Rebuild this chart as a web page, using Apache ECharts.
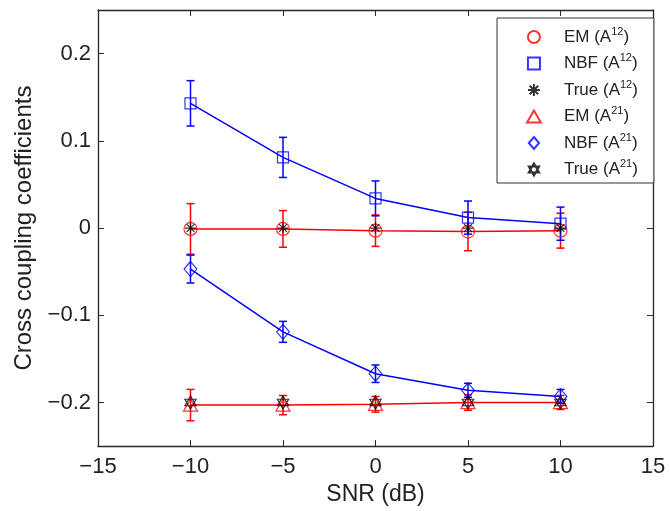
<!DOCTYPE html>
<html>
<head>
<meta charset="utf-8">
<script src="https://cdn.jsdelivr.net/npm/echarts@6/dist/echarts.min.js"></script>
<style>
html,body{margin:0;padding:0;background:#fff;}
#chart{width:670px;height:511px;}
</style>
</head>
<body>
<div id="chart"></div>
<script>
// ---- data ----
var snr = [-10, -5, 0, 5, 10];
var emA12 = [-0.001, -0.001, -0.003, -0.004, -0.003];
var emA12Err = [0.029, 0.021, 0.018, 0.022, 0.020];
var nbfA12 = [0.143, 0.081, 0.034, 0.012, 0.005];
var nbfA12Err = [0.026, 0.023, 0.020, 0.019, 0.019];
var trueA12 = [0, 0, 0, 0, 0];
var emA21 = [-0.203, -0.203, -0.202, -0.200, -0.200];
var emA21Err = [0.018, 0.011, 0.009, 0.009, 0.008];
var nbfA21 = [-0.047, -0.119, -0.167, -0.186, -0.193];
var nbfA21Err = [0.016, 0.012, 0.010, 0.008, 0.008];
var trueA21 = [-0.2, -0.2, -0.2, -0.2, -0.2];
var xTicks = [-15, -10, -5, 0, 5, 10, 15];
var yTicks = [-0.2, -0.1, 0, 0.1, 0.2];
var legendNames = ['EM (A12)', 'NBF (A12)', 'True (A12)', 'EM (A21)', 'NBF (A21)', 'True (A21)'];
var legendRich = {
  'EM (A12)': '{b|EM (A}{s|12}{b|)}',
  'NBF (A12)': '{b|NBF (A}{s|12}{b|)}',
  'True (A12)': '{b|True (A}{s|12}{b|)}',
  'EM (A21)': '{b|EM (A}{s|21}{b|)}',
  'NBF (A21)': '{b|NBF (A}{s|21}{b|)}',
  'True (A21)': '{b|True (A}{s|21}{b|)}'
};

var RED = '#ff0000', BLUE = '#0000ff', BLACK = '#000000', AXIS = '#262626';
var FONT = '"Liberation Sans", Arial, Helvetica, sans-serif';

function pairs(ys) { return snr.map(function (x, i) { return [x, ys[i]]; }); }
function bars(ys, es) { return snr.map(function (x, i) { return [x, ys[i] - es[i], ys[i] + es[i]]; }); }
function fmtMinus(v) { var s = String(Math.round(v * 1000) / 1000); return s.replace('-', '\u2212'); }

var ASTERISK = 'path://M0,-10L0,10M-10,0L10,0M-7.07,-7.07L7.07,7.07M-7.07,7.07L7.07,-7.07';
var HEXAGRAM = 'path://M0,-10L8.66,5L-8.66,5ZM0,10L8.66,-5L-8.66,-5Z';
var SQUARE = 'path://M-10,-10L10,-10L10,10L-10,10Z';
var TRIANGLE = 'path://M0,-10L10,7.3L-10,7.3Z';
var DIAMOND = 'path://M0,-10L8.5,0L0,10L-8.5,0Z';

function errSeries(ys, es, color) {
  return {
    type: 'custom',
    silent: true,
    z: 3,
    data: bars(ys, es),
    renderItem: function (params, api) {
      var x = api.value(0);
      var lo = api.coord([x, api.value(1)]);
      var hi = api.coord([x, api.value(2)]);
      var w = 4;
      var st = { stroke: color, lineWidth: 1.5 };
      return {
        type: 'group',
        children: [
          { type: 'line', shape: { x1: lo[0], y1: lo[1], x2: hi[0], y2: hi[1] }, style: st },
          { type: 'line', shape: { x1: lo[0] - w, y1: lo[1], x2: lo[0] + w, y2: lo[1] }, style: st },
          { type: 'line', shape: { x1: hi[0] - w, y1: hi[1], x2: hi[0] + w, y2: hi[1] }, style: st }
        ]
      };
    }
  };
}
function lineSeries(ys, color) {
  return { type: 'line', data: pairs(ys), symbol: 'none', silent: true, z: 2,
    lineStyle: { color: color, width: 1.5 } };
}
function markSeries(name, ys, symbol, size, color, z) {
  return { type: 'scatter', name: name, data: pairs(ys), symbol: symbol, symbolSize: size, z: z,
    symbolKeepAspect: true,
    itemStyle: { color: 'rgba(0,0,0,0)', borderColor: color, borderWidth: 1.2 } };
}

var axisCommon = {
  type: 'value', min: -15, max: 15, interval: 5,
  axisLine: { onZero: false, lineStyle: { color: AXIS, width: 1.3 } },
  splitLine: { show: false }
};

var option = {
  animation: false,
  backgroundColor: '#ffffff',
  grid: { left: 98, right: 17, top: 10, bottom: 62, containLabel: false },
  xAxis: [
    Object.assign({}, axisCommon, {
      position: 'bottom',
      name: 'SNR (dB)', nameLocation: 'middle', nameGap: 28,
      nameTextStyle: { fontFamily: FONT, fontSize: 23, color: '#222' },
      axisLabel: { margin: 10, fontFamily: FONT, fontSize: 22, color: '#222', formatter: fmtMinus,
        customValues: xTicks },
      axisTick: { inside: true, length: 6, lineStyle: { color: AXIS }, customValues: xTicks }
    }),
    Object.assign({}, axisCommon, {
      position: 'top',
      axisLabel: { show: false },
      axisTick: { inside: true, length: 6, lineStyle: { color: AXIS }, customValues: xTicks }
    })
  ],
  yAxis: [
    {
      type: 'value', min: -0.25, max: 0.25, interval: 0.05, position: 'left',
      name: 'Cross coupling coefficients', nameLocation: 'middle', nameGap: 60, nameRotate: 90,
      nameTextStyle: { fontFamily: FONT, fontSize: 24, color: '#222' },
      axisLine: { onZero: false, lineStyle: { color: AXIS, width: 1.3 } },
      axisTick: { inside: true, length: 6, lineStyle: { color: AXIS }, customValues: yTicks },
      axisLabel: { margin: 7, fontFamily: FONT, fontSize: 22, color: '#222', formatter: fmtMinus,
        customValues: yTicks },
      splitLine: { show: false }
    },
    {
      type: 'value', min: -0.25, max: 0.25, interval: 0.05, position: 'right',
      axisLine: { onZero: false, lineStyle: { color: AXIS, width: 1.3 } },
      axisTick: { inside: true, length: 6, lineStyle: { color: AXIS }, customValues: yTicks },
      axisLabel: { show: false },
      splitLine: { show: false }
    }
  ],
  legend: {
    orient: 'vertical',
    left: 497, top: 18,
    data: legendNames,
    itemWidth: 50, itemHeight: 12, itemGap: 7,
    padding: [8, 16, 5, 29],
    backgroundColor: '#ffffff',
    borderColor: '#333', borderWidth: 1, borderRadius: 0,
    selectedMode: false,
    formatter: function (n) { return legendRich[n]; },
    textStyle: {
      fontFamily: FONT, fontSize: 17, color: '#222',
      rich: {
        b: { fontFamily: FONT, fontSize: 17, color: '#222', lineHeight: 22 },
        s: { fontFamily: FONT, fontSize: 11, color: '#222', lineHeight: 13, verticalAlign: 'top' }
      }
    }
  },
  series: [
    lineSeries(emA12, RED),
    lineSeries(emA21, RED),
    lineSeries(nbfA12, BLUE),
    lineSeries(nbfA21, BLUE),
    errSeries(emA12, emA12Err, RED),
    errSeries(emA21, emA21Err, RED),
    errSeries(nbfA12, nbfA12Err, BLUE),
    errSeries(nbfA21, nbfA21Err, BLUE),
    markSeries('EM (A12)', emA12, 'circle', 13, RED, 4),
    markSeries('NBF (A12)', nbfA12, SQUARE, 11, BLUE, 4),
    markSeries('EM (A21)', emA21, TRIANGLE, 14, RED, 4),
    markSeries('NBF (A21)', nbfA21, DIAMOND, 15, BLUE, 4),
    markSeries('True (A12)', trueA12, ASTERISK, 11, BLACK, 5),
    markSeries('True (A21)', trueA21, HEXAGRAM, 13, BLACK, 5)
  ]
};

var chart = echarts.init(document.getElementById('chart'), null, { renderer: 'canvas' });
chart.setOption(option);
</script>
</body>
</html>
